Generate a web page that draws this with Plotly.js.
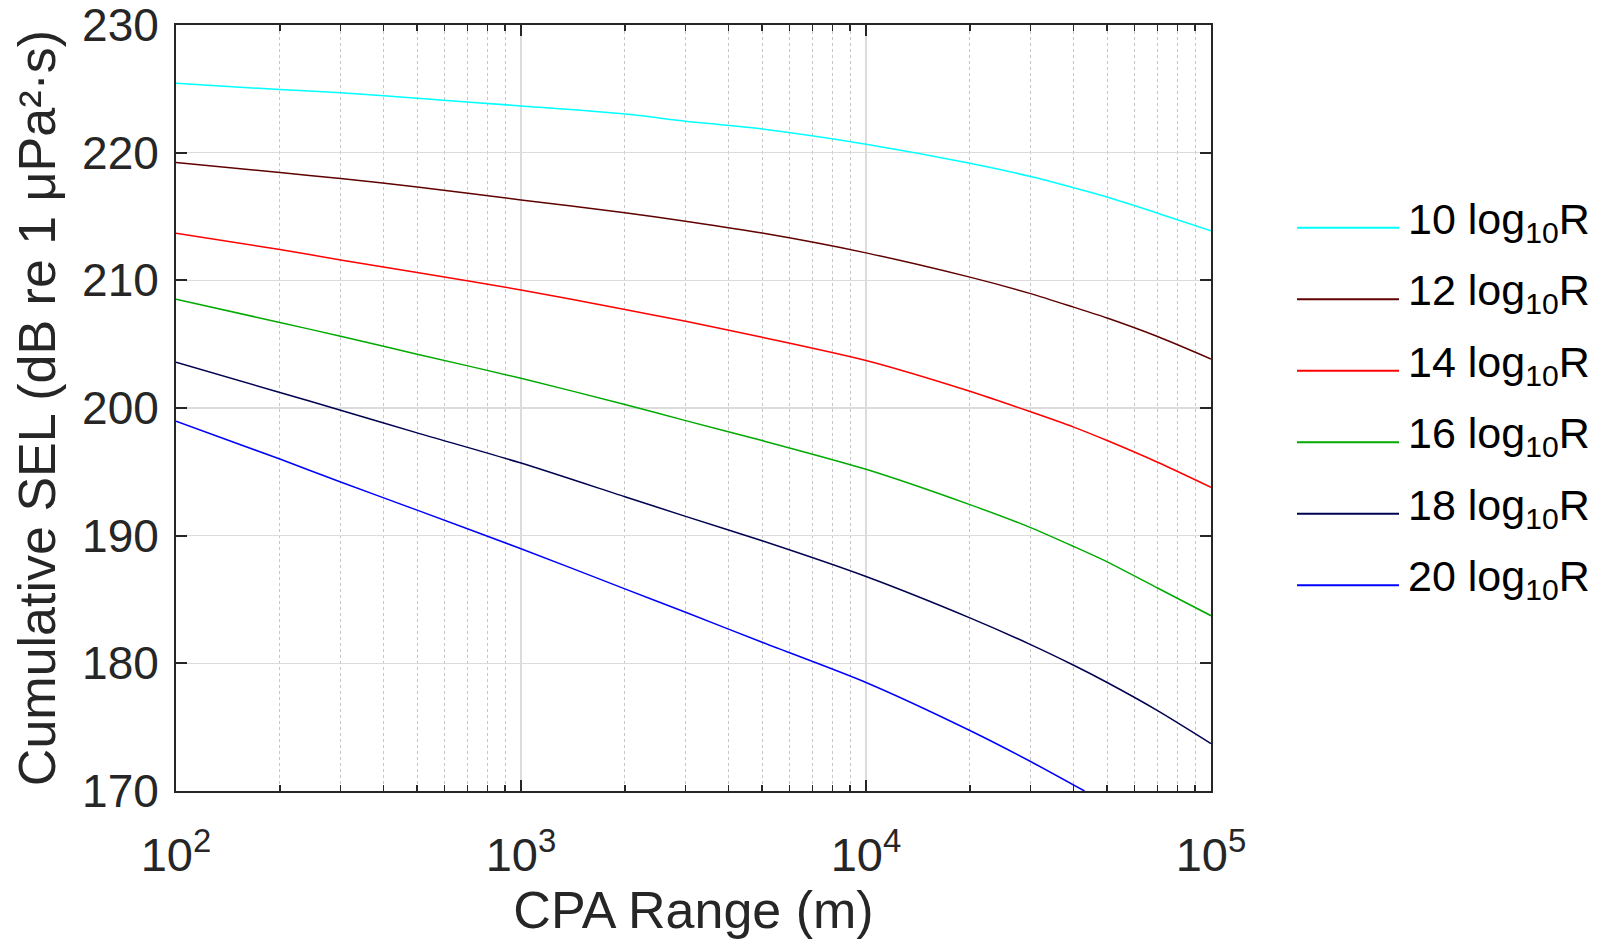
<!DOCTYPE html>
<html>
<head>
<meta charset="utf-8">
<script src="https://cdn.plot.ly/plotly-3.0.1.min.js"></script>
<style>html,body{margin:0;padding:0;background:#fff;}#chart{width:1607px;height:942px;}</style>
</head>
<body>
<div id="chart"></div>
<script>
// CPA range (m)
var cpaRange = [100, 200, 300, 500, 1000, 2000, 3000, 5000, 10000, 20000, 30000, 40000, 50000, 70000, 100000];
// Cumulative SEL (dB re 1 uPa^2 s) for each spreading law
var sel10 = [225.43, 224.94, 224.70, 224.26, 223.66, 223.02, 222.47, 221.85, 220.66, 219.17, 218.13, 217.25, 216.52, 215.26, 213.88];
var sel12 = [219.22, 218.44, 217.97, 217.31, 216.30, 215.30, 214.62, 213.70, 212.15, 210.25, 208.96, 207.90, 207.05, 205.60, 203.84];
var sel14 = [213.69, 212.41, 211.60, 210.61, 209.25, 207.71, 206.79, 205.54, 203.72, 201.31, 199.70, 198.50, 197.45, 195.75, 193.79];
var sel16 = [208.52, 206.70, 205.62, 204.21, 202.33, 200.27, 199.01, 197.45, 195.20, 192.43, 190.63, 189.15, 187.95, 185.90, 183.73];
var sel18 = [203.59, 201.21, 199.83, 198.05, 195.69, 193.05, 191.51, 189.60, 186.80, 183.56, 181.47, 179.85, 178.50, 176.30, 173.72];
var cpaRange20 = [100, 200, 300, 500, 1000, 2000, 3000, 5000, 10000, 20000, 30000, 43000];
var sel20 = [198.97, 196.00, 194.20, 192.00, 188.98, 185.83, 184.00, 181.65, 178.50, 174.74, 172.31, 170.00];

var seriesNames = ['10 log<sub>10</sub>R', '12 log<sub>10</sub>R', '14 log<sub>10</sub>R', '16 log<sub>10</sub>R', '18 log<sub>10</sub>R', '20 log<sub>10</sub>R'];
var seriesColors = ['#00FFFF', '#600000', '#FF0000', '#00AA00', '#000050', '#0000FF'];
var xTickVals = [100, 1000, 10000, 100000];
var xTickText = ['10<sup>2</sup>', '10<sup>3</sup>', '10<sup>4</sup>', '10<sup>5</sup>'];
var yTickVals = [170, 180, 190, 200, 210, 220, 230];
var yTickText = ['170', '180', '190', '200', '210', '220', '230'];

var xs = [cpaRange, cpaRange, cpaRange, cpaRange, cpaRange, cpaRange20];
var ys = [sel10, sel12, sel14, sel16, sel18, sel20];

var minorTicks = [];
for (var d = 100; d < 100000; d *= 10) { for (var k = 2; k <= 9; k++) minorTicks.push(d * k); }

var traces = ys.map(function (y, i) {
  return {
    x: xs[i], y: y, type: 'scatter', mode: 'lines', name: seriesNames[i],
    line: {color: seriesColors[i], width: 1.5, shape: 'spline', smoothing: 0.7},
    showlegend: false
  };
});

// plot area geometry (px)
var W = 1607, H = 942, L = 176, R = 1211, T = 25, B = 791;
function px2x(p) { return (p - L) / (R - L); }
function px2y(p) { return (B - p) / (B - T); }

var shapes = [], annotations = [];
var legTop = 227.7, legStep = 71.5;
seriesNames.forEach(function (n, i) {
  var yy = px2y(legTop + i * legStep);
  shapes.push({type: 'line', xref: 'paper', yref: 'paper', x0: px2x(1297), x1: px2x(1399), y0: yy, y1: yy,
    line: {color: seriesColors[i], width: 2}});
  annotations.push({xref: 'paper', yref: 'paper', x: px2x(1406), y: yy, xanchor: 'left', yanchor: 'middle',
    text: n, showarrow: false, yshift: 6,
    font: {family: 'Liberation Sans, Arial, sans-serif', size: 43, color: '#000000'}});
});

var axisColor = '#262626';
var layout = {
  width: W, height: H,
  margin: {l: L, r: W - R, t: T, b: H - B, pad: 0},
  paper_bgcolor: '#ffffff', plot_bgcolor: '#ffffff',
  font: {family: 'Liberation Sans, Arial, sans-serif', color: axisColor},
  showlegend: false,
  xaxis: {
    type: 'log', range: [2, 5], tickmode: 'array', tickvals: xTickVals, ticktext: xTickText,
    ticks: 'inside', ticklen: 11, tickwidth: 2, tickcolor: axisColor,
    showline: true, linecolor: axisColor, linewidth: 2, mirror: 'ticks',
    showgrid: true, gridcolor: '#dcdcdc', gridwidth: 1.5,
    zeroline: false, ticklabeloverflow: 'allow',
    tickfont: {size: 47, color: axisColor},
    ticklabelstandoff: 22,
    minor: {tickmode: 'array', tickvals: minorTicks, ticks: 'inside', ticklen: 6, tickwidth: 1.5, tickcolor: axisColor,
      showgrid: true, gridcolor: '#c4c4c4', gridwidth: 1, griddash: 'dot'},
    title: {text: 'CPA Range (m)', font: {size: 52, color: axisColor}, standoff: 10}
  },
  yaxis: {
    range: [170, 230], tickmode: 'array', tickvals: yTickVals, ticktext: yTickText,
    ticks: 'inside', ticklen: 11, tickwidth: 2, tickcolor: axisColor,
    showline: true, linecolor: axisColor, linewidth: 2, mirror: 'ticks',
    showgrid: true, gridcolor: '#dcdcdc', gridwidth: 1.5,
    zeroline: false, ticklabeloverflow: 'allow',
    tickfont: {size: 46, color: axisColor},
    ticklabelstandoff: 6,
    title: {text: 'Cumulative SEL (dB re 1 μPa²·s)', font: {size: 52, color: axisColor}, standoff: 10}
  },
  shapes: shapes,
  annotations: annotations
};

Plotly.newPlot('chart', traces, layout, {displayModeBar: false, staticPlot: true});
</script>
</body>
</html>
